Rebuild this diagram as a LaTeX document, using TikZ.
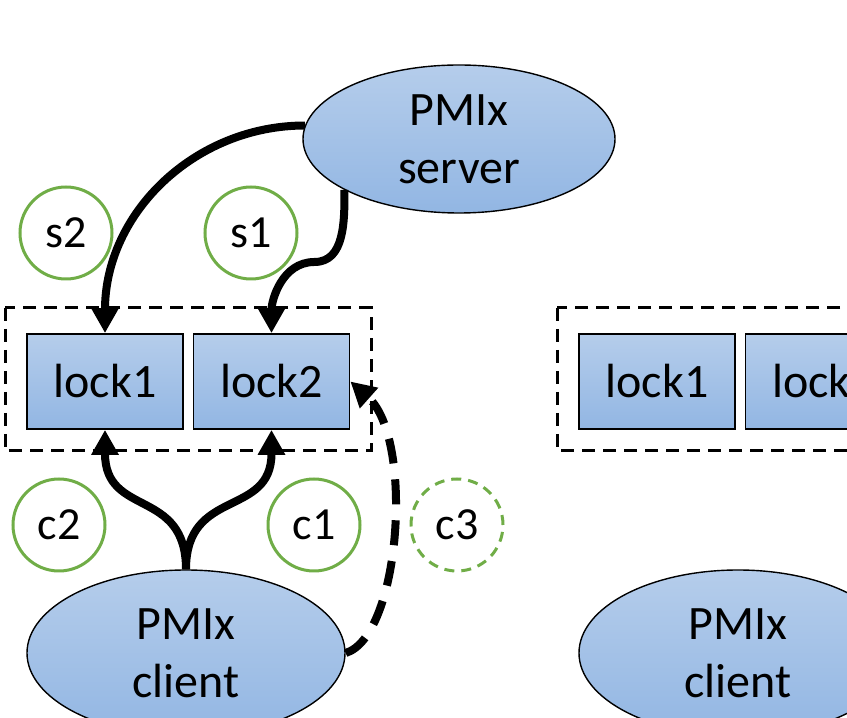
\documentclass[tikz,border=0pt]{standalone}
\usepackage{fontspec}
\setmainfont{Carlito}
\usetikzlibrary{arrows.meta,shapes.geometric}
\definecolor{boxtop}{RGB}{181,205,235}
\definecolor{boxbot}{RGB}{146,182,227}
\definecolor{stepgreen}{RGB}{112,173,71}
\tikzset{
  bigfont/.style={font=\fontsize{24}{29}\selectfont},
  proc/.style={ellipse,draw=black,line width=0.7pt,top color=boxtop,bottom color=boxbot,
    minimum width=156pt,minimum height=74pt,inner sep=0pt,align=center,bigfont},
  lockbox/.style={rectangle,draw=black,line width=0.9pt,top color=boxtop,bottom color=boxbot,
    minimum width=78pt,minimum height=47.5pt,bigfont},
  stepmark/.style={circle,draw=stepgreen,line width=1.5pt,minimum size=46pt,inner sep=0pt,
    font=\fontsize{23}{27}\selectfont},
  conn/.style={line width=4pt,-{Triangle[length=12.5pt,width=13pt]}},
  group/.style={line width=1.5pt,dash pattern=on 6.5pt off 4pt},
}
\begin{document}
\begin{tikzpicture}[x=0.5pt,y=0.5pt]
  \clip (0,0) rectangle (847,718);
  % left side: locks of the first node
  \draw[group] (5,410) rectangle (371,267);
  \node[lockbox] (lock1) at (105,336.5) {lock1};
  \node[lockbox] (lock2) at (271.5,336.5) {lock2};
  \node[proc] (srv) at (459,579) {PMIx\\server};
  \node[proc,minimum width=159pt,minimum height=83pt] (cli) at (186,65) {PMIx\\client};
  % right side, cut at the border
  \draw[group] (557,410) rectangle (923,267);
  \node[lockbox] (lock1r) at (657,336.5) {lock1};
  \node[lockbox] (lock2r) at (823.5,336.5) {lock2};
  \node[proc,minimum width=159pt,minimum height=83pt] (clir) at (738,65) {PMIx\\client};
  % steps
  \node[stepmark] (s2) at (66,485) {s2};
  \node[stepmark] (s1) at (251,485) {s1};
  \node[stepmark] (c2) at (59,193) {c2};
  \node[stepmark] (c1) at (314,193) {c1};
  \node[stepmark,dash pattern=on 5pt off 3.5pt] (c3) at (457,193) {c3};
  % server side
  \draw[conn] (srv.175) .. controls +(-110,0) and +(0,120) .. (lock1.north);
  \draw[conn] (srv.204) to[out=-90,in=0] ++(-30,-72) to[out=180,in=90] (lock2.north);
  % client side
  \draw[conn] (cli.north) .. controls +(0,82) and +(0,-88) .. (lock1.south);
  \draw[conn] (cli.north) .. controls +(0,82) and +(0,-88) .. (lock2.south);
  \draw[conn,dash pattern=on 12.5pt off 8pt] (cli.east) .. controls +(55,17) and +(64,-57) .. (lock2.east);
\end{tikzpicture}
\end{document}
